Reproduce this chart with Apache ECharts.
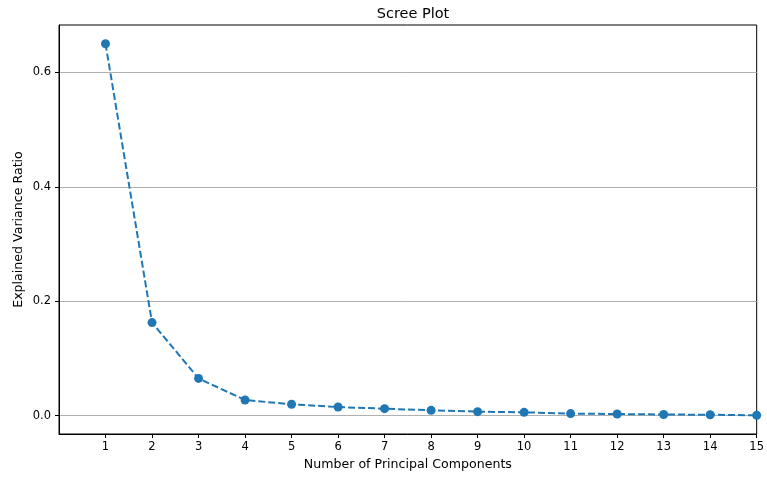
<!DOCTYPE html>
<html>
<head>
<meta charset="utf-8">
<script src="https://cdn.jsdelivr.net/npm/echarts@6/dist/echarts.min.js"></script>
<style>
  html, body { margin: 0; padding: 0; background: #fff; }
  #chart { width: 767px; height: 479px; }
</style>
</head>
<body>
<div id="chart"></div>
<script>
// Principal component index and the share of variance each one explains
const components = [1, 2, 3, 4, 5, 6, 7, 8, 9, 10, 11, 12, 13, 14, 15];
const varianceRatio = [0.650, 0.1626, 0.065, 0.0273, 0.0198, 0.015, 0.0122, 0.0093,
                       0.0070, 0.0058, 0.0036, 0.0028, 0.0019, 0.0016, 0.0006];
const yTicks = [0.0, 0.2, 0.4, 0.6];

const FONT = 'DejaVu Sans';
const chart = echarts.init(document.getElementById('chart'), null, { renderer: 'canvas' });

chart.setOption({
  animation: false,
  backgroundColor: '#ffffff',
  title: {
    text: 'Scree Plot',
    left: 408,
    top: 2,
    textAlign: 'center',
    textStyle: { fontFamily: FONT, fontSize: 14.5, fontWeight: 'normal', color: '#000' }
  },
  grid: {
    left: 59, right: 9, top: 25, bottom: 45,
    show: true, borderColor: '#000', borderWidth: 1, backgroundColor: 'transparent'
  },
  xAxis: {
    type: 'value',
    min: 0, max: 15, interval: 1,
    name: 'Number of Principal Components',
    nameLocation: 'middle',
    nameGap: 24,
    nameTextStyle: { fontFamily: FONT, fontSize: 12.6, color: '#000' },
    axisLine: { show: true, onZero: false, lineStyle: { color: '#000', width: 1 } },
    axisTick: { show: true, length: 4, inside: false, customValues: components,
                lineStyle: { color: '#000', width: 1 } },
    axisLabel: { customValues: components, margin: 7,
                 fontFamily: FONT, fontSize: 11.5, color: '#000' },
    splitLine: { show: false }
  },
  yAxis: {
    type: 'value',
    min: -0.0321, max: 0.6827,
    name: 'Explained Variance Ratio',
    nameLocation: 'middle',
    nameGap: 34,
    nameMoveOverlap: false,
    nameRotate: 90,
    nameTextStyle: { fontFamily: FONT, fontSize: 12.6, color: '#000' },
    axisLine: { show: true, onZero: false, lineStyle: { color: '#000', width: 1 } },
    axisTick: { show: true, length: 4, customValues: yTicks,
                lineStyle: { color: '#000', width: 1 } },
    axisLabel: { customValues: yTicks, margin: 8,
                 formatter: v => v.toFixed(1),
                 fontFamily: FONT, fontSize: 11.5, color: '#000' },
    splitLine: { show: true, lineStyle: { color: '#b0b0b0', width: 1 } }
  },
  series: [{
    type: 'line',
    data: components.map((c, i) => [c, varianceRatio[i]]),
    symbol: 'circle',
    symbolSize: 9,
    showAllSymbol: true,
    clip: false,
    itemStyle: { color: '#1f77b4' },
    lineStyle: { color: '#1f77b4', width: 2, type: [7, 3] }
  }]
});
</script>
</body>
</html>
